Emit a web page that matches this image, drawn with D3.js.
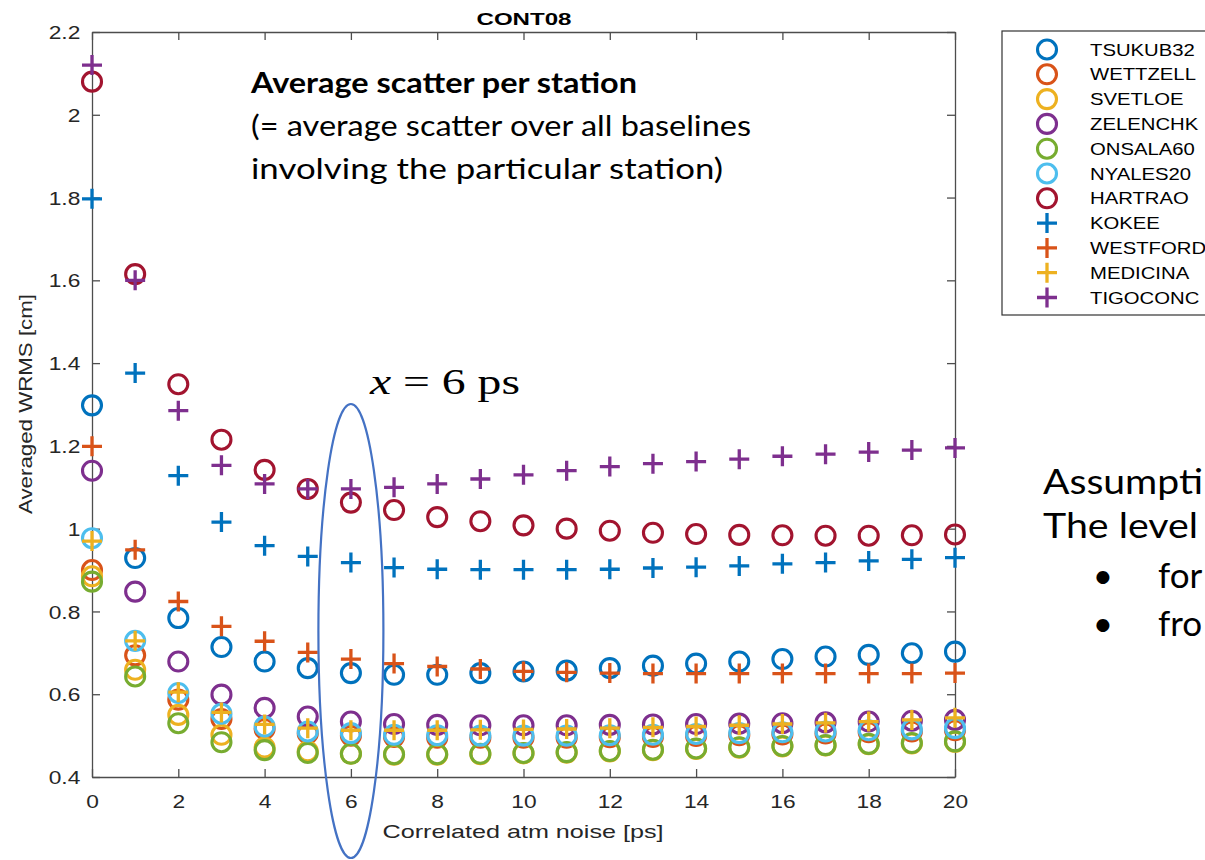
<!DOCTYPE html>
<html>
<head>
<meta charset="utf-8">
<script src="https://cdn.jsdelivr.net/npm/d3@7"></script>
<style>
  body { margin: 0; background: #fff; overflow: hidden; }
  svg { display: block; }
</style>
</head>
<body>
<script>
// correlated atmospheric noise [ps]
var noise = [0, 1, 2, 3, 4, 5, 6, 7, 8, 9, 10, 11, 12, 13, 14, 15, 16, 17, 18, 19, 20];

// averaged WRMS [cm] per station
var tsukub32 = [1.298, 0.929, 0.784, 0.714, 0.679, 0.663, 0.651, 0.647, 0.647, 0.651, 0.655, 0.657, 0.663, 0.669, 0.674, 0.679, 0.685, 0.691, 0.695, 0.699, 0.703];
var wettzell = [0.900, 0.694, 0.587, 0.540, 0.516, 0.505, 0.500, 0.497, 0.495, 0.495, 0.495, 0.495, 0.496, 0.497, 0.499, 0.501, 0.503, 0.505, 0.508, 0.510, 0.513];
var svetloe  = [0.885, 0.659, 0.550, 0.502, 0.471, 0.462, 0.456, 0.454, 0.454, 0.455, 0.457, 0.459, 0.462, 0.465, 0.468, 0.471, 0.474, 0.476, 0.479, 0.481, 0.485];
var zelenchk = [1.140, 0.848, 0.679, 0.599, 0.567, 0.546, 0.534, 0.528, 0.526, 0.525, 0.525, 0.525, 0.526, 0.527, 0.528, 0.529, 0.530, 0.532, 0.534, 0.536, 0.538];
var onsala60 = [0.872, 0.643, 0.530, 0.484, 0.465, 0.458, 0.456, 0.455, 0.455, 0.456, 0.458, 0.460, 0.463, 0.466, 0.469, 0.472, 0.475, 0.477, 0.480, 0.482, 0.486];
var nyales20 = [0.977, 0.729, 0.603, 0.553, 0.522, 0.510, 0.506, 0.502, 0.501, 0.500, 0.500, 0.500, 0.501, 0.502, 0.504, 0.506, 0.508, 0.510, 0.513, 0.515, 0.518];
var hartrao  = [2.080, 1.615, 1.349, 1.215, 1.142, 1.096, 1.063, 1.045, 1.028, 1.018, 1.008, 1.000, 0.995, 0.990, 0.987, 0.985, 0.984, 0.983, 0.983, 0.984, 0.986];
var kokee    = [1.797, 1.376, 1.128, 1.016, 0.959, 0.933, 0.918, 0.906, 0.902, 0.901, 0.901, 0.901, 0.902, 0.905, 0.907, 0.910, 0.915, 0.918, 0.922, 0.926, 0.930];
var westford = [1.199, 0.949, 0.824, 0.764, 0.728, 0.701, 0.685, 0.674, 0.667, 0.661, 0.655, 0.653, 0.651, 0.650, 0.650, 0.650, 0.650, 0.650, 0.650, 0.650, 0.651];
var medicina = [0.970, 0.729, 0.605, 0.556, 0.527, 0.518, 0.513, 0.513, 0.513, 0.514, 0.515, 0.516, 0.518, 0.520, 0.522, 0.525, 0.528, 0.531, 0.534, 0.538, 0.543];
var tigoconc = [2.120, 1.600, 1.285, 1.153, 1.108, 1.096, 1.096, 1.100, 1.108, 1.120, 1.130, 1.140, 1.150, 1.157, 1.162, 1.168, 1.175, 1.180, 1.185, 1.190, 1.195];

var stations = ["TSUKUB32", "WETTZELL", "SVETLOE", "ZELENCHK", "ONSALA60", "NYALES20", "HARTRAO", "KOKEE", "WESTFORD", "MEDICINA", "TIGOCONC"];
var values = [tsukub32, wettzell, svetloe, zelenchk, onsala60, nyales20, hartrao, kokee, westford, medicina, tigoconc];
var markers = ["o", "o", "o", "o", "o", "o", "o", "+", "+", "+", "+"];
var colors = ["#0072BD", "#D95319", "#EDB120", "#7E2F8E", "#77AC30", "#4DBEEE", "#A2142F", "#0072BD", "#D95319", "#EDB120", "#7E2F8E"];

var xTicks = [0, 2, 4, 6, 8, 10, 12, 14, 16, 18, 20];
var yTicks = [0.4, 0.6, 0.8, 1.0, 1.2, 1.4, 1.6, 1.8, 2.0, 2.2];

var W = 1205, H = 860;
var plotL = 92, plotR = 955, plotT = 32, plotB = 777;
var stretch = 1.23; // text in the picture is a bit wider than tall

var svg = d3.select("body").append("svg").attr("width", W).attr("height", H);

var x = d3.scaleLinear().domain([0, 20]).range([plotL, plotR]);
var y = d3.scaleLinear().domain([0.4, 2.2]).range([plotB, plotT]);

var axisColor = "#4d4d4d";
var tickFont = "Liberation Sans, Arial, sans-serif";

// axes (MATLAB style box, inward ticks)
function styleAxis(g) {
  g.selectAll(".domain").attr("stroke", axisColor).attr("stroke-width", 1.3);
  g.selectAll(".tick line").attr("stroke", axisColor).attr("stroke-width", 1.3);
}

var gx = svg.append("g").attr("transform", "translate(0," + plotB + ")")
  .call(d3.axisBottom(x).tickValues(xTicks).tickSize(-8).tickSizeOuter(0).tickFormat(d3.format("d")));
styleAxis(gx);
gx.selectAll("text").attr("y", 31).attr("dy", null)
  .attr("font-size", 18.5).attr("font-family", tickFont).attr("fill", "#262626")
  .attr("transform", "scale(" + stretch + ",1)");

var gy = svg.append("g").attr("transform", "translate(" + plotL + ",0)")
  .call(d3.axisLeft(y).tickValues(yTicks).tickSize(-8).tickSizeOuter(0).tickPadding(9.5)
    .tickFormat(function (d) { return String(+d.toFixed(1)); }));
styleAxis(gy);
gy.selectAll("text").attr("dy", "0.36em")
  .attr("font-size", 18.5).attr("font-family", tickFont).attr("fill", "#262626")
  .attr("transform", "scale(" + stretch + ",1)");

var gt = svg.append("g").attr("transform", "translate(0," + plotT + ")")
  .call(d3.axisTop(x).tickValues(xTicks).tickSize(-8).tickSizeOuter(0).tickFormat(""));
styleAxis(gt);

var gr = svg.append("g").attr("transform", "translate(" + plotR + ",0)")
  .call(d3.axisRight(y).tickValues(yTicks).tickSize(-8).tickSizeOuter(0).tickFormat(""));
styleAxis(gr);

// axis labels and title
svg.append("text").attr("x", 523).attr("y", 838).attr("text-anchor", "middle")
  .attr("font-family", tickFont).attr("font-size", 19).attr("fill", "#262626")
  .attr("textLength", 281).attr("lengthAdjust", "spacingAndGlyphs")
  .text("Correlated atm noise [ps]");

svg.append("text").attr("transform", "translate(32,404) rotate(-90)").attr("text-anchor", "middle")
  .attr("font-family", tickFont).attr("font-size", 19).attr("fill", "#262626")
  .attr("textLength", 220).attr("lengthAdjust", "spacingAndGlyphs")
  .text("Averaged WRMS [cm]");

svg.append("text").attr("x", 524).attr("y", 25).attr("text-anchor", "middle")
  .attr("font-family", tickFont).attr("font-size", 16).attr("font-weight", "bold").attr("fill", "#000")
  .attr("textLength", 95).attr("lengthAdjust", "spacingAndGlyphs")
  .text("CONT08");

// marker drawing
function drawMarker(g, type, cx, cy, color) {
  if (type === "o") {
    g.append("circle").attr("cx", cx).attr("cy", cy).attr("r", 9.5)
      .attr("fill", "none").attr("stroke", color).attr("stroke-width", 3.1);
  } else {
    g.append("path").attr("d", "M" + (cx - 10) + "," + cy + "H" + (cx + 10) + "M" + cx + "," + (cy - 10) + "V" + (cy + 10))
      .attr("fill", "none").attr("stroke", color).attr("stroke-width", 3.3);
  }
}

var plot = svg.append("g");
values.forEach(function (series, s) {
  var g = plot.append("g").attr("class", "series");
  series.forEach(function (v, i) {
    drawMarker(g, markers[s], x(noise[i]), y(v), colors[s]);
  });
});

// legend
var leg = svg.append("g");
leg.append("rect").attr("x", 1002).attr("y", 31).attr("width", 230).attr("height", 284)
  .attr("fill", "#fff").attr("stroke", "#333").attr("stroke-width", 1.2);
stations.forEach(function (name, i) {
  var ly = 49.5 + i * 24.8;
  drawMarker(leg, markers[i], 1047, ly, colors[i]);
  leg.append("text").attr("transform", "translate(1090," + (ly + 6) + ") scale(" + stretch + ",1)")
    .attr("font-family", tickFont).attr("font-size", 16.5).attr("fill", "#000")
    .text(name);
});

// annotations
var note = "Lato, 'Open Sans', sans-serif";
svg.append("text").attr("x", 251).attr("y", 93).attr("font-family", note).attr("font-weight", "bold")
  .attr("font-size", 29).attr("textLength", 386).attr("lengthAdjust", "spacingAndGlyphs")
  .text("Average scatter per station");
svg.append("text").attr("x", 251).attr("y", 136).attr("font-family", note)
  .attr("font-size", 29).attr("textLength", 500).attr("lengthAdjust", "spacingAndGlyphs")
  .text("(= average scatter over all baselines");
svg.append("text").attr("x", 251).attr("y", 179).attr("font-family", note)
  .attr("font-size", 29).attr("textLength", 472).attr("lengthAdjust", "spacingAndGlyphs")
  .text("involving the particular station)");

var xEq = svg.append("text").attr("x", 370).attr("y", 394).attr("font-family", "Liberation Serif, Times New Roman, serif")
  .attr("font-size", 36).attr("textLength", 150).attr("lengthAdjust", "spacingAndGlyphs");
xEq.append("tspan").attr("font-style", "italic").text("x");
xEq.append("tspan").text(" = 6 ps");

svg.append("ellipse").attr("cx", x(6)).attr("cy", 631).attr("rx", 32.5).attr("ry", 227)
  .attr("fill", "none").attr("stroke", "#4472C4").attr("stroke-width", 2.2);

svg.append("text").attr("x", 1043).attr("y", 494).attr("font-family", note).attr("font-size", 35)
  .attr("textLength", 160).attr("lengthAdjust", "spacingAndGlyphs").text("Assumpti");
svg.append("text").attr("x", 1043).attr("y", 538).attr("font-family", note).attr("font-size", 35)
  .attr("textLength", 155).attr("lengthAdjust", "spacingAndGlyphs").text("The level");
svg.append("text").attr("x", 1103).attr("y", 588).attr("text-anchor", "middle").attr("font-family", note).attr("font-size", 35).text("•");
svg.append("text").attr("x", 1158).attr("y", 588).attr("font-family", note).attr("font-size", 35).text("for");
svg.append("text").attr("x", 1103).attr("y", 636).attr("text-anchor", "middle").attr("font-family", note).attr("font-size", 35).text("•");
svg.append("text").attr("x", 1158).attr("y", 636).attr("font-family", note).attr("font-size", 35).text("fro");
</script>
</body>
</html>
